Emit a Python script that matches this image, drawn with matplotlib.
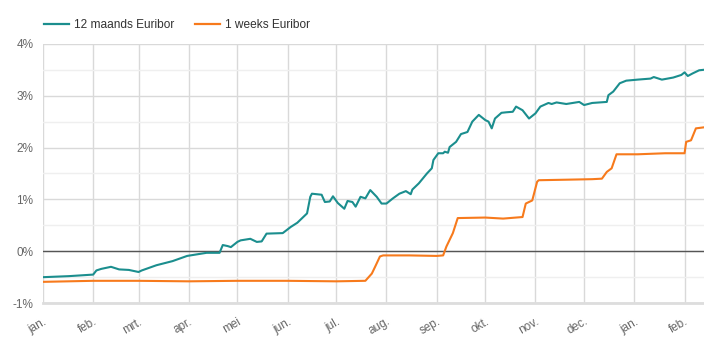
import matplotlib
matplotlib.use("Agg")
import matplotlib.pyplot as plt
from matplotlib.ticker import MultipleLocator, FuncFormatter
from matplotlib.lines import Line2D
import pandas as pd

plt.rcParams['font.family'] = ['Liberation Sans', 'DejaVu Sans']

# 12-month Euribor (%)
euribor_12m_dates = [
    "2022-01-01", "2022-01-17", "2022-02-01", "2022-02-03", "2022-02-06", "2022-02-12",
    "2022-02-17", "2022-02-23", "2022-03-01", "2022-03-03", "2022-03-12", "2022-03-22",
    "2022-03-31", "2022-04-12", "2022-04-20", "2022-04-22", "2022-04-25", "2022-04-27",
    "2022-05-01", "2022-05-03", "2022-05-09", "2022-05-13", "2022-05-16", "2022-05-19",
    "2022-05-29", "2022-06-03", "2022-06-07", "2022-06-13", "2022-06-15", "2022-06-16",
    "2022-06-22", "2022-06-24", "2022-06-27", "2022-06-29", "2022-07-02", "2022-07-06",
    "2022-07-08", "2022-07-11", "2022-07-13", "2022-07-16", "2022-07-19", "2022-07-22",
    "2022-07-26", "2022-07-29", "2022-08-01", "2022-08-05", "2022-08-09", "2022-08-13",
    "2022-08-16", "2022-08-17", "2022-08-21", "2022-08-26", "2022-08-29", "2022-08-30",
    "2022-09-02", "2022-09-05", "2022-09-06", "2022-09-08", "2022-09-09", "2022-09-13",
    "2022-09-16", "2022-09-20", "2022-09-23", "2022-09-27", "2022-10-01", "2022-10-03",
    "2022-10-05", "2022-10-07", "2022-10-11", "2022-10-14", "2022-10-18", "2022-10-20",
    "2022-10-24", "2022-10-28", "2022-11-01", "2022-11-04", "2022-11-09", "2022-11-11",
    "2022-11-14", "2022-11-20", "2022-11-28", "2022-12-01", "2022-12-06", "2022-12-15",
    "2022-12-16", "2022-12-19", "2022-12-23", "2022-12-27", "2023-01-03", "2023-01-11",
    "2023-01-13", "2023-01-18", "2023-01-25", "2023-01-30", "2023-02-01", "2023-02-03",
    "2023-02-06", "2023-02-10", "2023-02-13",
]
euribor_12m_values = [
    -0.50, -0.48, -0.45, -0.37, -0.34, -0.30,
    -0.35, -0.36, -0.40, -0.37, -0.27, -0.19,
    -0.09, -0.03, -0.03, 0.12, 0.10, 0.08,
    0.18, 0.21, 0.24, 0.18, 0.19, 0.34,
    0.35, 0.47, 0.55, 0.73, 1.05, 1.11,
    1.09, 0.95, 0.96, 1.06, 0.93, 0.82,
    0.97, 0.95, 0.86, 1.05, 1.02, 1.18,
    1.05, 0.92, 0.92, 1.02, 1.11, 1.16,
    1.10, 1.19, 1.31, 1.50, 1.60, 1.76,
    1.89, 1.89, 1.92, 1.90, 2.01, 2.11,
    2.26, 2.30, 2.50, 2.63, 2.53, 2.50,
    2.37, 2.56, 2.67, 2.68, 2.69, 2.79,
    2.72, 2.56, 2.66, 2.79, 2.86, 2.84,
    2.87, 2.84, 2.88, 2.82, 2.86, 2.88,
    3.01, 3.08, 3.24, 3.29, 3.31, 3.33,
    3.36, 3.31, 3.35, 3.40, 3.45, 3.38,
    3.43, 3.49, 3.50,
]

# 1-week Euribor (%)
euribor_1w_dates = [
    "2022-01-01", "2022-02-01", "2022-03-01", "2022-04-01", "2022-05-01", "2022-06-01",
    "2022-07-01", "2022-07-19", "2022-07-23", "2022-07-25", "2022-07-28", "2022-07-30",
    "2022-08-15", "2022-09-01", "2022-09-05", "2022-09-07", "2022-09-11", "2022-09-14",
    "2022-10-01", "2022-10-12", "2022-10-24", "2022-10-26", "2022-10-30", "2022-11-02",
    "2022-11-03", "2022-11-20", "2022-12-06", "2022-12-12", "2022-12-15", "2022-12-18",
    "2022-12-21", "2023-01-03", "2023-01-20", "2023-02-01", "2023-02-02", "2023-02-05",
    "2023-02-08", "2023-02-13",
]
euribor_1w_values = [
    -0.59, -0.57, -0.57, -0.58, -0.57, -0.57,
    -0.58, -0.57, -0.43, -0.30, -0.10, -0.08,
    -0.08, -0.09, -0.08, 0.09, 0.35, 0.64,
    0.65, 0.63, 0.66, 0.92, 0.98, 1.34,
    1.37, 1.38, 1.39, 1.40, 1.53, 1.60,
    1.87, 1.87, 1.89, 1.89, 2.11, 2.14,
    2.37, 2.39,
]

series_names = ["12 maands Euribor", "1 weeks Euribor"]
series_colors = ["#1b8e8e", "#f77a1c"]

month_labels = ["jan.", "feb.", "mrt.", "apr.", "mei", "jun.", "jul.",
                "aug.", "sep.", "okt.", "nov.", "dec.", "jan.", "feb."]

fig = plt.figure(figsize=(7.04, 3.48), dpi=100)
ax = fig.add_axes([0.061, 0.129, 0.939, 0.745])

d12 = pd.to_datetime(euribor_12m_dates)
d1w = pd.to_datetime(euribor_1w_dates)

ax.plot(d12, euribor_12m_values, color=series_colors[0], lw=1.5, zorder=4,
        solid_joinstyle="round")
ax.plot(d1w, euribor_1w_values, color=series_colors[1], lw=1.5, zorder=4,
        solid_joinstyle="round")

ax.set_xlim(pd.Timestamp("2022-01-01"), pd.Timestamp("2023-02-13"))
ax.set_ylim(-1, 4)

# grid
ax.yaxis.set_major_locator(MultipleLocator(1))
ax.yaxis.set_minor_locator(MultipleLocator(0.5))
ax.grid(which="major", axis="y", color="#d9d9d9", lw=1.0)
ax.grid(which="minor", axis="y", color="#efefef", lw=1.0)
ax.grid(which="major", axis="x", color="#d9d9d9", lw=1.0)
ax.axhline(0, color="#555555", lw=1.0, zorder=3)
ax.set_axisbelow(True)

ax.yaxis.set_major_formatter(FuncFormatter(lambda v, p: f"{v:.0f}%"))

month_starts = pd.date_range("2022-01-01", "2023-02-01", freq="MS")
ax.set_xticks(month_starts)
ax.set_xticklabels(month_labels, rotation=30, ha="right", rotation_mode="anchor")

for s in ["top", "right", "left"]:
    ax.spines[s].set_visible(False)
ax.spines["bottom"].set_color("#dddddd")
ax.spines["bottom"].set_linewidth(2)

ax.tick_params(axis="both", which="both", length=0, colors="#666666", labelsize=8.5)
ax.tick_params(axis="y", pad=7)
ax.tick_params(axis="x", pad=9)

handles = [Line2D([], [], color=c, lw=1.6) for c in series_colors]
fig.legend(handles, series_names, loc="upper left", bbox_to_anchor=(0.062, 0.946),
           ncol=2, frameon=False, handlelength=2.1, handletextpad=0.45,
           columnspacing=1.7, fontsize=8.6, labelcolor="#333333",
           borderaxespad=0, borderpad=0)

fig.savefig("out.png", dpi=100)
